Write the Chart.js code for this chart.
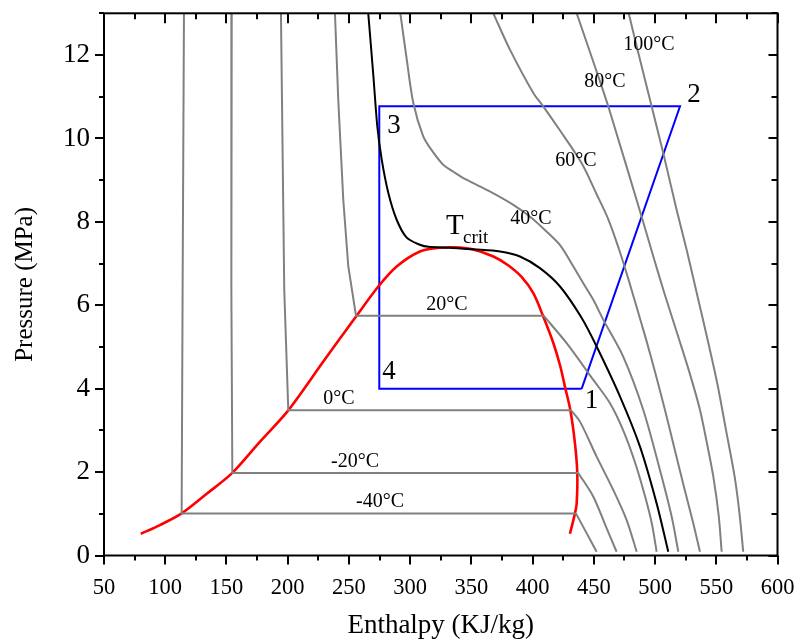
<!DOCTYPE html>
<html>
<head>
<meta charset="utf-8">
<script src="https://cdn.jsdelivr.net/npm/chart.js@4.4.1/dist/chart.umd.min.js"></script>
<style>
  html, body { margin: 0; padding: 0; background: #fff; }
  #wrap { width: 799px; height: 644px; }
</style>
</head>
<body>
<div id="wrap"><canvas id="phChart" width="799" height="644"></canvas></div>
<script>
// tick values
const xTicks = [50, 100, 150, 200, 250, 300, 350, 400, 450, 500, 550, 600];
const yTicks = [0, 2, 4, 6, 8, 10, 12];

// saturation dome [h, P]
const domeLeft = [[80, 0.52], [95.7, 0.73], [113.4, 1.01], [133.9, 1.48], [154.8, 1.98], [177.4, 2.73],
  [200.5, 3.48], [229.1, 4.65], [256.3, 5.75], [274, 6.45], [289, 6.93], [308, 7.29], [324, 7.38], [336, 7.39]];
const domeRight = [[350, 7.35], [368, 7.17], [380, 6.96], [391, 6.68], [400.6, 6.29], [408.7, 5.73], [417, 5.09],
  [422.5, 4.55], [426.4, 4.05], [430.8, 3.49], [434.6, 2.69], [436.5, 1.97], [436, 1.25], [434.6, 1.01], [430.5, 0.52]];

// critical isotherm
const tCrit = [[265.8, 13], [270, 11.49], [273.2, 10.29], [276.8, 9.49], [282.2, 8.69], [289, 8.05], [297.2, 7.62],
  [308, 7.45], [315, 7.40], [332, 7.38], [351.6, 7.34], [373.4, 7.29], [389.7, 7.17], [406, 6.89], [422.4, 6.45],
  [440, 5.70], [452.3, 5.01], [471.4, 3.81], [487.7, 2.61], [501.3, 1.25], [510.8, 0.09]];

// subcritical isotherms: liquid branch, then vapour branch
const isoM40Liq = [[115.3, 13], [114.2, 6.4], [113.4, 1.01]];
const isoM40Vap = [[435.4, 1.01], [444.2, 0.53], [452.3, 0.09]];
const isoM20Liq = [[154.3, 13], [154.0, 6.4], [154.8, 1.98]];
const isoM20Vap = [[437.3, 1.98], [449.6, 1.41], [460.5, 0.65], [468.6, 0.09]];
const iso0Liq = [[194.5, 13], [197.2, 6.37], [200.5, 3.48]];
const iso0Vap = [[431.5, 3.48], [438.7, 3.21], [452.3, 2.37], [465.9, 1.57], [476.8, 0.85], [485, 0.09]];
const iso20Liq = [[238.6, 13], [241.3, 10.93], [245.4, 8.53], [249.5, 6.93], [255.8, 5.75]];
const iso20Vap = [[409, 5.75], [427.8, 5.09], [449.6, 4.21], [463.2, 3.65], [474, 3.0], [484, 2.2], [492, 1.4],
  [497.5, 0.75], [501.3, 0.09]];

// supercritical isotherms
const iso40 = [[292, 13], [297.2, 11.9], [302.6, 10.85], [310.7, 10.05], [318, 9.7], [327, 9.37], [337, 9.17],
  [346, 9.01], [365, 8.73], [383, 8.43], [399, 8.1], [412, 7.75], [423, 7.42], [433.3, 6.93], [442, 6.5],
  [449.6, 6.13], [457.8, 5.65], [474, 4.77], [490.4, 3.49], [504, 2.05], [513.6, 0.93], [519, 0.09]];
const iso60 = [[367.9, 13], [381.5, 12.13], [400.6, 11.09], [408.7, 10.77], [421, 10.25], [440, 9.41], [452, 8.68],
  [462, 8.05], [470.5, 7.35], [478, 6.65], [485, 5.95], [492.5, 5.2], [500, 4.4], [508, 3.5], [516, 2.55],
  [524, 1.6], [531, 0.8], [536.7, 0.09]];
const iso80 = [[436, 13], [455, 11.37], [461.8, 10.77], [489, 8.13], [498.6, 7.17], [507.5, 6.3], [520, 5.15],
  [529, 4.3], [536.7, 3.49], [543, 2.6], [547.6, 1.89], [552, 0.95], [554.4, 0.09]];
const iso100 = [[478.5, 13], [485, 12.21], [497.2, 10.77], [506.7, 9.65], [517.6, 8.29], [525.8, 7.33], [534, 6.3],
  [543.5, 5.1], [551, 4.1], [558, 3.0], [565, 1.89], [569, 1.0], [572, 0.09]];

// refrigeration cycle 1-2-3-4
const cycle = [[440.1, 4.0], [520.4, 10.77], [274.8, 10.77], [274.8, 4.0], [440.1, 4.0]];

// text annotations [text, h, P]
const isoLabels = [["100°C", 495, 12.25], ["80°C", 459.1, 11.36], ["60°C", 435.4, 9.47], ["40°C", 398.7, 8.08],
  ["20°C", 330.1, 6.01], ["0°C", 241.9, 3.76], ["-20°C", 255, 2.24], ["-40°C", 275.4, 1.28]];
const cycleLabels = [["1", 448.2, 3.71], ["2", 531.8, 11.04], ["3", 286.8, 10.31], ["4", 282.7, 4.40]];
const critLabel = [336.6, 7.88];

const SERIF = '"Liberation Serif", "Times New Roman", serif';
const GRAY = "#808080";

const pts = (arr) => arr.map(([x, y]) => ({ x, y }));
const line = (arr, color, width, tension) => ({
  data: pts(arr),
  borderColor: color,
  borderWidth: width,
  tension,
  showLine: true,
  pointRadius: 0,
  fill: false,
});

const datasets = [
  line([...isoM40Liq, isoM40Vap[0]], GRAY, 2, 0), line(isoM40Vap, GRAY, 2, 0.3),
  line([...isoM20Liq, isoM20Vap[0]], GRAY, 2, 0), line(isoM20Vap, GRAY, 2, 0.3),
  line([...iso0Liq, iso0Vap[0]], GRAY, 2, 0), line(iso0Vap, GRAY, 2, 0.3),
  line([...iso20Liq, iso20Vap[0]], GRAY, 2, 0), line(iso20Vap, GRAY, 2, 0.3),
  line(iso40, GRAY, 2, 0.3), line(iso60, GRAY, 2, 0.3), line(iso80, GRAY, 2, 0.3), line(iso100, GRAY, 2, 0.3),
  line(tCrit, "#000000", 2, 0.3),
  line([...domeLeft, ...domeRight], "#ff0000", 2.6, 0.3),
  line(cycle, "#0000ff", 2, 0),
];

// frame with inward / outward ticks and the annotations
const framePlugin = {
  id: "frame",
  afterDatasetsDraw(chart) {
    const { ctx, scales } = chart;
    const xs = scales.x, ys = scales.y;
    ctx.save();
    ctx.fillStyle = "#000";
    ctx.textAlign = "center";
    ctx.textBaseline = "middle";
    ctx.font = `20px ${SERIF}`;
    for (const [t, h, p] of isoLabels) ctx.fillText(t, xs.getPixelForValue(h), ys.getPixelForValue(p));
    ctx.font = `27px ${SERIF}`;
    for (const [t, h, p] of cycleLabels) ctx.fillText(t, xs.getPixelForValue(h), ys.getPixelForValue(p));
    const tx = xs.getPixelForValue(critLabel[0]);
    const ty = ys.getPixelForValue(critLabel[1]);
    ctx.font = `29px ${SERIF}`;
    ctx.fillText("T", tx, ty);
    ctx.textAlign = "left";
    ctx.font = `19px ${SERIF}`;
    ctx.fillText("crit", tx + 8, ty + 11);
    ctx.restore();
  },
  afterDraw(chart) {
    const { ctx, chartArea: a, scales } = chart;
    const xs = scales.x, ys = scales.y;
    ctx.save();
    ctx.strokeStyle = "#000";
    ctx.lineWidth = 2;
    ctx.beginPath();
    for (let v = 50; v <= 600; v += 25) {
      const px = Math.round(xs.getPixelForValue(v));
      const major = v % 50 === 0;
      ctx.moveTo(px, a.bottom); ctx.lineTo(px, a.bottom + (major ? 9 : 5));
      ctx.moveTo(px, a.top); ctx.lineTo(px, a.top + (major ? 10 : 6));
    }
    for (let v = 0; v <= 13; v += 1) {
      const py = Math.round(ys.getPixelForValue(v));
      const major = v % 2 === 0;
      ctx.moveTo(a.left, py); ctx.lineTo(a.left - (major ? 9 : 5), py);
      ctx.moveTo(a.right, py); ctx.lineTo(a.right - (major ? 9 : 6), py);
    }
    ctx.stroke();
    ctx.strokeRect(a.left, a.top, a.right - a.left, a.bottom - a.top);
    ctx.restore();
  },
};

new Chart(document.getElementById("phChart"), {
  type: "scatter",
  data: { datasets },
  plugins: [framePlugin],
  options: {
    responsive: false,
    animation: false,
    layout: { padding: { left: 0, right: 21.5, top: 13.3, bottom: 0 } },
    plugins: { legend: { display: false }, tooltip: { enabled: false } },
    elements: { point: { radius: 0 } },
    scales: {
      x: {
        type: "linear",
        min: 50,
        max: 600,
        afterBuildTicks: (s) => { s.ticks = xTicks.map((value) => ({ value })); },
        afterFit: (s) => { s.height = 88.5; s.paddingLeft = 0; s.paddingRight = 0; },
        grid: { display: false },
        border: { display: false },
        ticks: { color: "#000", font: { family: SERIF, size: 22.5 }, padding: 11, maxRotation: 0, autoSkip: false },
        title: { display: true, text: "Enthalpy (KJ/kg)", color: "#000", font: { family: SERIF, size: 27 }, padding: { top: 0, bottom: 2 } },
      },
      y: {
        type: "linear",
        min: 0,
        max: 13,
        afterBuildTicks: (s) => { s.ticks = yTicks.map((value) => ({ value })); },
        afterFit: (s) => { s.width = 104; s.paddingTop = 0; s.paddingBottom = 0; },
        grid: { display: false },
        border: { display: false },
        ticks: { color: "#000", font: { family: SERIF, size: 27 }, padding: 6, autoSkip: false },
        title: { display: true, text: "Pressure (MPa)", color: "#000", font: { family: SERIF, size: 25 }, padding: { top: 10, bottom: 0 } },
      },
    },
  },
});
</script>
</body>
</html>
